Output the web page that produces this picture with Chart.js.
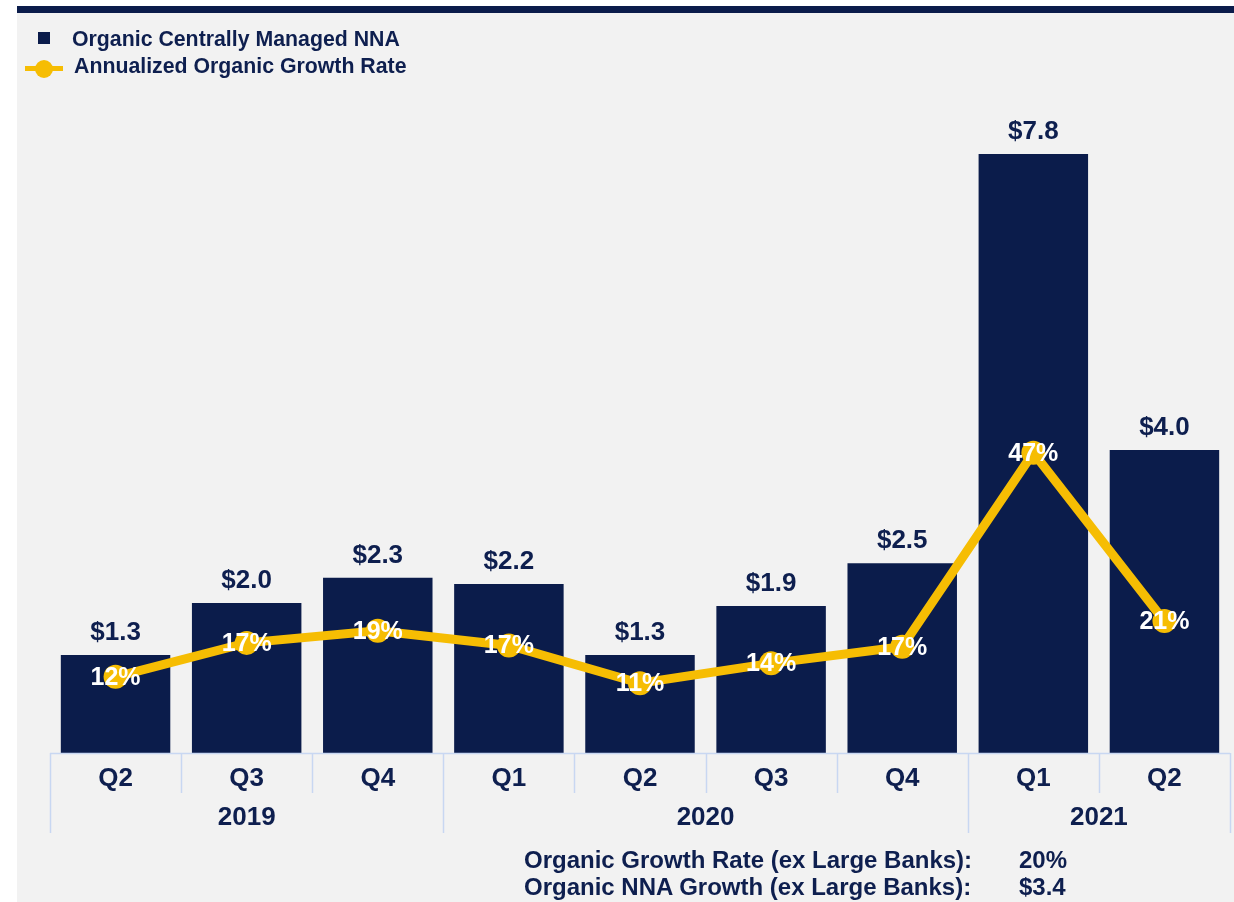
<!DOCTYPE html>
<html>
<head>
<meta charset="utf-8">
<script src="https://cdn.jsdelivr.net/npm/chart.js@4.4.1/dist/chart.umd.min.js"></script>
<style>
  html, body { margin: 0; background: #fff; overflow: hidden; font-family: "Liberation Sans", Arial, sans-serif; }
  #wrap { position: relative; width: 1234px; height: 902px; overflow: hidden; }
  #panel { position: absolute; left: 17px; top: 6px; width: 1217px; height: 896px; background: #f2f2f2; border-top: 7px solid #0b1c4b; box-sizing: border-box; }
  #chart { position: absolute; left: 0; top: 0; width: 1234px; height: 902px; }
  .legend { position: absolute; left: 0; top: 0; font-weight: bold; font-size: 21.3px; color: #0e1f4f; }
  .legend .item { position: absolute; white-space: nowrap; line-height: 24px; }
  .sq { position: absolute; width: 12px; height: 12px; background: #0b1c4b; }
  .ln { position: absolute; width: 38px; height: 5px; background: #f6bd03; }
  .dot { position: absolute; width: 18px; height: 18px; border-radius: 50%; background: #f6bd03; }
  .foot { position: absolute; font-weight: bold; font-size: 24px; color: #0e1f4f; line-height: 27px; white-space: nowrap; }
</style>
</head>
<body>
<div id="wrap">
  <div id="panel"></div>
  <canvas id="chart" width="1234" height="902"></canvas>
  <div class="legend" id="legend"></div>
  <div class="foot" style="left:524px; top:846px;">Organic Growth Rate (ex Large Banks):<br>Organic NNA Growth (ex Large Banks):</div>
  <div class="foot" style="left:1019px; top:846px;">20%<br>$3.4</div>
</div>
<script>
const quarters = ['Q2', 'Q3', 'Q4', 'Q1', 'Q2', 'Q3', 'Q4', 'Q1', 'Q2'];
const years = ['2019', '2019', '2019', '2020', '2020', '2020', '2020', '2021', '2021'];
// $bn (labels show one decimal)
const nna = [1.28, 1.96, 2.29, 2.21, 1.28, 1.92, 2.48, 7.83, 3.96];
// % (labels show whole numbers)
const growth = [11.9, 17.2, 19.1, 16.8, 10.9, 14.0, 16.6, 46.9, 20.6];

const NAVY = '#0b1c4b';
const TEXT = '#0e1f4f';
const GOLD = '#f6bd03';
const AXIS = '#c8d7f2';
const FONT = '"Liberation Sans", Arial, sans-serif';

// value labels above bars and percent labels on the line points
const labelPlugin = {
  id: 'labels',
  afterDatasetsDraw(chart) {
    const ctx = chart.ctx;
    ctx.save();
    ctx.textAlign = 'center';
    ctx.textBaseline = 'middle';
    chart.getDatasetMeta(1).data.forEach((bar, i) => {
      ctx.fillStyle = TEXT;
      ctx.font = 'bold 26px ' + FONT;
      ctx.fillText('$' + nna[i].toFixed(1), bar.x, bar.y - 22);
    });
    chart.getDatasetMeta(0).data.forEach((pt, i) => {
      ctx.fillStyle = '#ffffff';
      ctx.font = 'bold 25px ' + FONT;
      ctx.fillText(Math.round(growth[i]) + '%', pt.x, pt.y + 1);
    });
    ctx.restore();
  }
};

// two level category axis: quarter cells and year groups
const axisPlugin = {
  id: 'twoLevelAxis',
  afterDraw(chart) {
    const ctx = chart.ctx;
    const x = chart.scales.x;
    const half = (x.getPixelForValue(1) - x.getPixelForValue(0)) / 2;
    const top = chart.chartArea.bottom;
    ctx.save();
    ctx.strokeStyle = AXIS;
    ctx.lineWidth = 1.5;
    ctx.beginPath();
    ctx.moveTo(x.left, top + 0.5);
    ctx.lineTo(x.right, top + 0.5);
    ctx.stroke();
    for (let i = 0; i <= quarters.length; i++) {
      const px = Math.round(x.getPixelForValue(i) - half) + 0.5;
      const yearEdge = i === 0 || i === quarters.length || years[i] !== years[i - 1];
      ctx.beginPath();
      ctx.moveTo(px, top);
      ctx.lineTo(px, top + (yearEdge ? 80 : 40));
      ctx.stroke();
    }
    ctx.fillStyle = TEXT;
    ctx.font = 'bold 26px ' + FONT;
    ctx.textAlign = 'center';
    ctx.textBaseline = 'middle';
    let start = 0;
    for (let i = 1; i <= years.length; i++) {
      if (i === years.length || years[i] !== years[start]) {
        const mid = (x.getPixelForValue(start) + x.getPixelForValue(i - 1)) / 2;
        ctx.fillText(years[start], mid, top + 65);
        start = i;
      }
    }
    ctx.restore();
  }
};

const chart = new Chart(document.getElementById('chart'), {
  type: 'bar',
  data: {
    labels: quarters,
    datasets: [
      {
        type: 'line',
        label: 'Annualized Organic Growth Rate',
        data: growth,
        yAxisID: 'y2',
        borderColor: GOLD,
        borderWidth: 9,
        pointRadius: 12,
        pointBackgroundColor: GOLD,
        pointBorderWidth: 0,
        tension: 0,
        order: 0
      },
      {
        label: 'Organic Centrally Managed NNA',
        data: nna,
        yAxisID: 'y',
        backgroundColor: NAVY,
        categoryPercentage: 1,
        barPercentage: 0.835,
        order: 1
      }
    ]
  },
  options: {
    responsive: false,
    animation: false,
    devicePixelRatio: 1,
    layout: { autoPadding: false, padding: { left: 50, right: 4, top: 100, bottom: 69 } },
    plugins: { legend: { display: false }, tooltip: { enabled: false } },
    scales: {
      x: {
        grid: { display: false, drawTicks: false },
        border: { display: false },
        ticks: { color: TEXT, font: { family: FONT, size: 26, weight: 'bold' }, padding: 10, maxRotation: 0 },
        afterFit: s => { s.height = 80; s.paddingLeft = 0; s.paddingRight = 0; }
      },
      y: { display: false, min: 0, max: 8.536 },
      y2: { display: false, position: 'right', min: 0, max: 102 }
    }
  },
  plugins: [labelPlugin, axisPlugin]
});

// legend from the dataset labels
const legend = document.getElementById('legend');
const [lineDs, barDs] = chart.data.datasets;
legend.innerHTML =
  '<div class="sq" style="left:38px; top:32px;"></div>' +
  '<div class="item" style="left:72px; top:27px;">' + barDs.label + '</div>' +
  '<div class="ln" style="left:25px; top:66px;"></div>' +
  '<div class="dot" style="left:35px; top:60px;"></div>' +
  '<div class="item" style="left:74px; top:54px;">' + lineDs.label + '</div>';
</script>
</body>
</html>
